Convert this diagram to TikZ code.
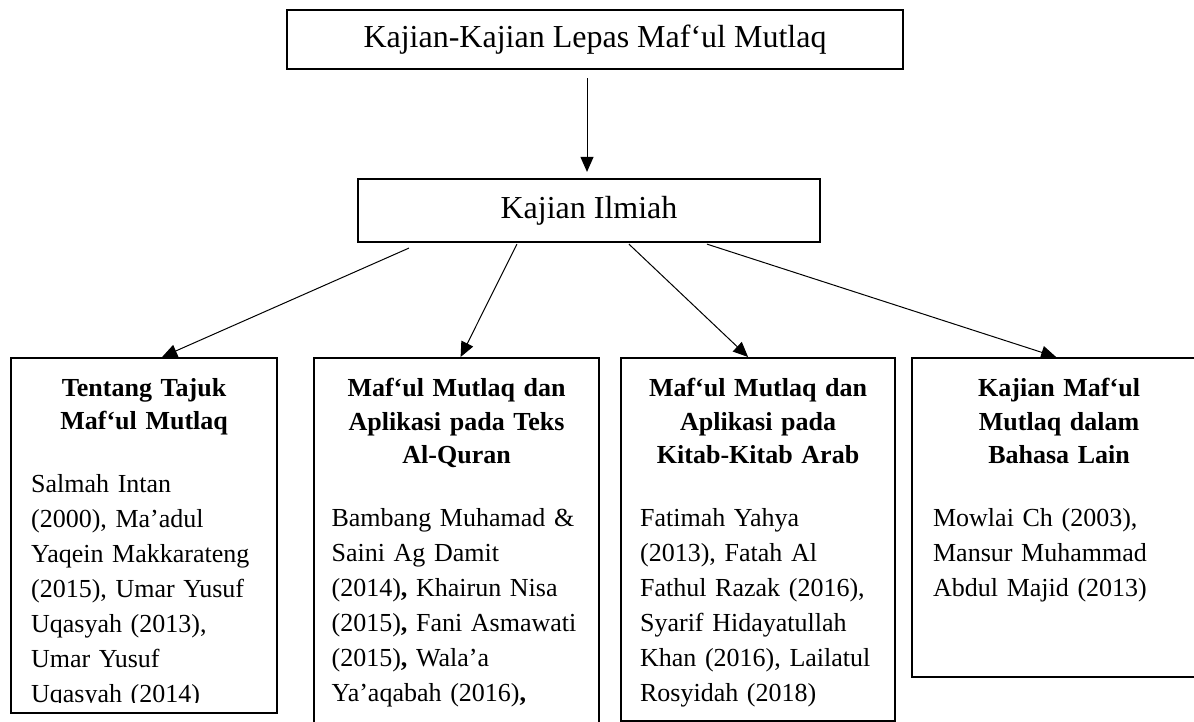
\documentclass[tikz,border=0pt]{standalone}
\usepackage{fontspec}
\setmainfont{Liberation Serif}
\usetikzlibrary{arrows.meta}
\tikzset{
	head/.style={draw, line width=2.2pt, inner sep=0, font=\fontsize{32}{38}\selectfont},
	box/.style={draw, line width=2.2pt, anchor=north west, inner sep=0},
	txt/.style={anchor=north, inner sep=0, text width=#1, align=left, font=\fontsize{26}{35}\selectfont},
	arr/.style={-{Triangle[length=15pt,width=13pt]}, line width=1pt}
}
\newcommand{\ttl}[1]{{\centering\fontsize{26}{33.5}\selectfont\bfseries #1\par}\vspace{27.5pt}}
\begin{document}
\begin{tikzpicture}[x=1pt, y=-1pt]
	\useasboundingbox (0,0) rectangle (1194,722);
	\node[head, minimum width=616pt, minimum height=59pt] (top) at (595,39.5) {Kajian-Kajian Lepas Maf‘ul Mutlaq};
	\node[head, minimum width=462pt, minimum height=63pt] (ilmiah) at (589,210.5) {Kajian Ilmiah};
	\node[box, minimum width=266pt, minimum height=355pt] (b1) at (10,357) {};
	\node[box, minimum width=285pt, minimum height=423pt] (b2) at (313,357) {};
	\node[box, minimum width=274pt, minimum height=363pt] (b3) at (620,357) {};
	\node[box, minimum width=294pt, minimum height=319pt] (b4) at (911,357) {};
	\begin{scope}
		\clip (b1.north west) rectangle ([yshift=12pt]b1.south east);
		\node[txt=226pt] (t1) at ([yshift=-21pt]b1.north) {\ttl{Tentang Tajuk\\Maf‘ul Mutlaq}
			Salmah Intan\\(2000), Ma’adul\\Yaqein Makkarateng\\(2015), Umar Yusuf\\Uqasyah (2013),\\Umar Yusuf\\Uqasyah (2014)};
	\end{scope}
	\node[txt=250pt] (t2) at ([yshift=-21pt]b2.north) {\ttl{Maf‘ul Mutlaq dan\\Aplikasi pada Teks\\Al-Quran}
		Bambang Muhamad \&\\Saini Ag Damit\\(2014)\textbf{,} Khairun Nisa\\(2015)\textbf{,} Fani Asmawati\\(2015)\textbf{,} Wala’a\\Ya’aqabah (2016)\textbf{,}};
	\node[txt=236pt] (t3) at ([yshift=-21pt]b3.north) {\ttl{Maf‘ul Mutlaq dan\\Aplikasi pada\\Kitab-Kitab Arab}
		Fatimah Yahya\\(2013), Fatah Al\\Fathul Razak (2016),\\Syarif Hidayatullah\\Khan (2016), Lailatul\\Rosyidah (2018)};
	\node[txt=252pt] (t4) at ([yshift=-21pt]b4.north) {\ttl{Kajian Maf‘ul\\Mutlaq dalam\\Bahasa Lain}
		Mowlai Ch (2003),\\Mansur Muhammad\\Abdul Majid (2013)};
	\draw[arr, shorten <=8pt, shorten >=6pt] ([xshift=-2pt]ilmiah.north |- top.south) -- ([xshift=-2pt]ilmiah.north);
	\draw[arr] ([xshift=52pt, yshift=-5pt]ilmiah.south west) -- ([xshift=18pt]b1.north);
	\draw[arr] ([xshift=160pt, yshift=-1pt]ilmiah.south west) -- ([xshift=4pt]b2.north);
	\draw[arr] ([xshift=272pt, yshift=-1pt]ilmiah.south west) -- ([xshift=-10pt]b3.north);
	\draw[arr] ([xshift=350pt, yshift=-1pt]ilmiah.south west) -- ([xshift=-3pt]b4.north);
\end{tikzpicture}
\end{document}
